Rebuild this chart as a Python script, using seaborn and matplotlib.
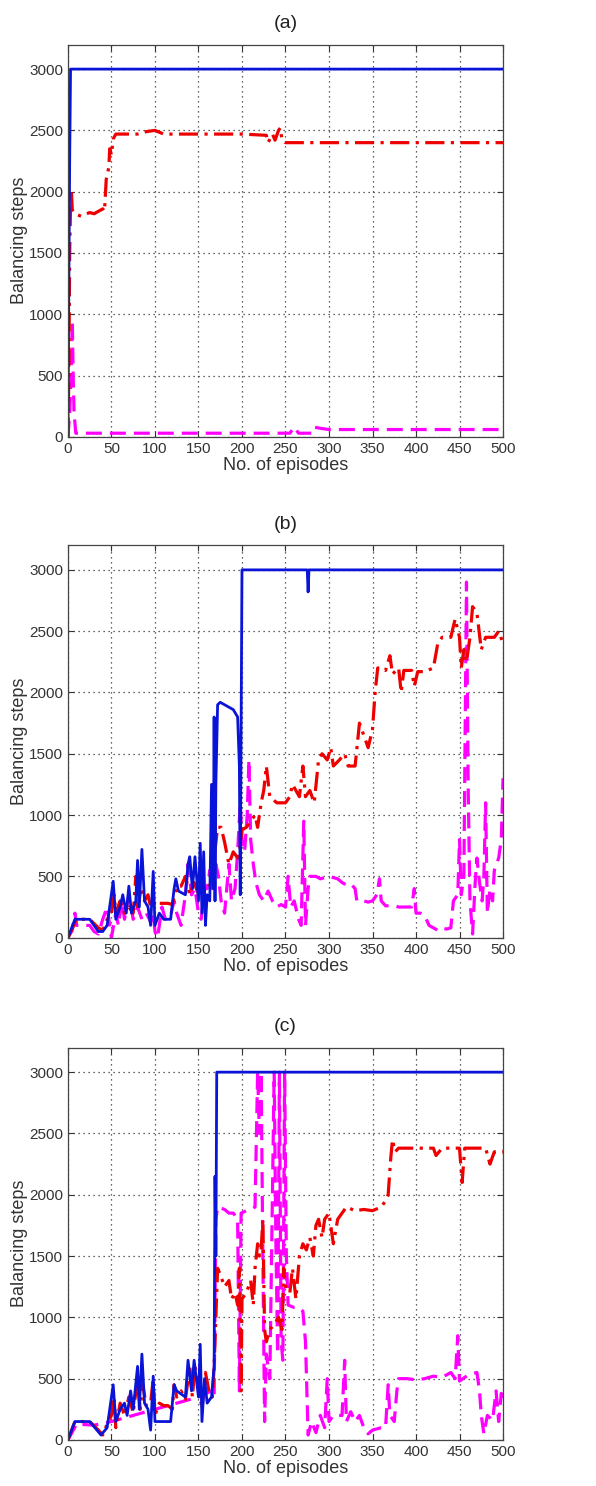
import numpy as np
import pandas as pd
import matplotlib
matplotlib.use("Agg")
import matplotlib.pyplot as plt
import seaborn as sns

# ============================================
# DATA
# ============================================

# ---- panel (a) ----
a_blue_ep = [0, 1, 2, 3, 500]
a_blue_val = [0, 1200, 2250, 3000, 3000]

a_red_ep = [0, 1, 2, 3, 4, 5, 8, 15, 25, 30, 40, 42, 44, 47, 48, 50, 52, 55, 80, 90,
            100, 110, 150, 200, 228, 230, 235, 238, 242, 244, 246, 250, 300, 400, 500]
a_red_val = [0, 500, 1500, 1900, 2000, 1850, 1820, 1800, 1830, 1820, 1860, 1840, 2100,
             2200, 2350, 2300, 2430, 2470, 2470, 2490, 2500, 2470, 2470, 2470, 2460,
             2400, 2470, 2420, 2500, 2520, 2420, 2400, 2400, 2400, 2400]

a_mag_ep = [0, 2, 4, 5, 6, 7, 9, 250, 255, 260, 265, 280, 283, 290, 300, 500]
a_mag_val = [0, 200, 600, 950, 500, 200, 30, 30, 30, 80, 30, 30, 80, 70, 60, 60]

# ---- panel (b) ----
b_blue_ep = [0, 8, 25, 35, 40, 45, 52, 55, 60, 63, 67, 70, 73, 78, 80, 82, 85, 88, 92,
             95, 98, 100, 105, 110, 118, 122, 124, 127, 135, 138, 140, 143, 146, 150,
             152, 154, 156, 158, 160, 163, 165, 167, 168, 169, 170, 172, 175, 185, 190,
             195, 197, 198, 199, 200, 275, 276, 277, 500]
b_blue_val = [0, 150, 150, 50, 50, 100, 460, 150, 250, 350, 200, 420, 200, 300, 630,
              250, 720, 300, 250, 100, 540, 100, 200, 150, 150, 400, 480, 380, 350, 600,
              660, 400, 660, 300, 770, 200, 700, 100, 350, 300, 1250, 400, 1800, 300,
              1250, 1900, 1920, 1880, 1860, 1800, 1400, 350, 1700, 3000, 3000, 2820,
              3000, 3000]

b_red_ep = [0, 8, 10, 25, 35, 40, 45, 50, 53, 55, 60, 65, 70, 75, 78, 80, 84, 88, 92,
            95, 98, 100, 105, 115, 120, 125, 130, 135, 140, 145, 150, 155, 160, 165,
            168, 172, 176, 180, 185, 190, 195, 198, 200, 205, 210, 215, 218, 222, 225,
            228, 232, 240, 250, 255, 258, 262, 266, 270, 273, 278, 283, 288, 292, 298,
            302, 305, 312, 318, 322, 330, 335, 340, 345, 350, 353, 356, 360, 365, 370,
            373, 380, 383, 386, 395, 398, 402, 410, 420, 425, 430, 440, 445, 450, 452,
            455, 458, 462, 465, 470, 475, 480, 490, 495, 500]
b_red_val = [0, 120, 150, 150, 80, 60, 150, 200, 350, 200, 300, 200, 250, 200, 500,
             250, 400, 300, 350, 250, 250, 300, 280, 280, 270, 420, 420, 500, 350, 450,
             350, 380, 400, 450, 650, 900, 900, 780, 600, 700, 650, 750, 880, 900, 950,
             1000, 900, 1100, 1200, 1400, 1150, 1100, 1100, 1150, 1250, 1200, 1150, 1400,
             1150, 1200, 1100, 1450, 1500, 1450, 1550, 1400, 1450, 1500, 1400, 1400,
             1750, 1650, 1550, 1700, 2000, 2200, 2200, 2180, 2300, 2150, 2200, 2000, 2180,
             2180, 2050, 2170, 2170, 2200, 2400, 2450, 2450, 2600, 2450, 2200, 2350, 2250,
             2450, 2700, 2650, 2350, 2450, 2450, 2500, 2400]

b_mag_ep = [0, 5, 8, 10, 25, 30, 35, 40, 45, 48, 50, 55, 58, 62, 65, 70, 75, 80, 85, 90,
            95, 98, 100, 103, 108, 112, 118, 122, 125, 130, 135, 138, 142, 146, 150, 153,
            157, 160, 163, 166, 170, 173, 176, 180, 185, 188, 192, 195, 198, 200, 203,
            206, 208, 210, 213, 216, 220, 225, 230, 235, 240, 245, 250, 253, 256, 260,
            265, 268, 271, 273, 276, 278, 285, 290, 300, 310, 315, 320, 325, 330, 332,
            340, 345, 350, 355, 358, 360, 365, 375, 380, 395, 398, 400, 405, 410, 415,
            420, 425, 430, 435, 440, 443, 448, 450, 452, 455, 458, 460, 462, 465, 468,
            470, 473, 476, 478, 480, 482, 485, 488, 490, 495, 498, 500]
b_mag_val = [0, 60, 200, 100, 100, 50, 30, 150, 250, 100, 0, 200, 100, 300, 150, 350,
             150, 250, 150, 200, 130, 200, 50, 0, 250, 150, 180, 300, 200, 100, 350, 600,
             350, 400, 200, 150, 400, 400, 550, 400, 600, 500, 300, 200, 600, 300, 400,
             700, 1100, 800, 700, 1000, 1450, 800, 600, 450, 350, 300, 380, 300, 250, 270,
             250, 500, 250, 300, 150, 100, 950, 100, 400, 500, 500, 480, 500, 480, 450,
             430, 440, 400, 300, 300, 290, 300, 350, 480, 300, 260, 260, 250, 250, 400,
             200, 200, 180, 100, 80, 60, 80, 70, 80, 300, 350, 800, 350, 500, 2900, 1200,
             300, 30, 450, 650, 450, 300, 500, 1100, 200, 400, 300, 550, 650, 800, 1300]

# ---- panel (c) ----
c_blue_ep = [0, 8, 25, 38, 45, 52, 55, 60, 65, 68, 72, 75, 80, 82, 85, 88, 92, 95, 98,
             100, 110, 118, 122, 125, 135, 138, 142, 145, 150, 152, 154, 157, 160, 165,
             168, 169, 170, 171, 500]
c_blue_val = [0, 150, 150, 40, 100, 450, 150, 250, 300, 200, 400, 250, 600, 250, 700,
              300, 250, 80, 520, 150, 150, 150, 450, 400, 350, 650, 400, 650, 350, 780,
              150, 500, 300, 350, 600, 2150, 1500, 3000, 3000]

c_red_ep = [0, 8, 25, 35, 40, 45, 50, 53, 55, 60, 65, 70, 75, 80, 83, 86, 90, 95, 98,
            100, 105, 110, 115, 120, 122, 125, 130, 135, 140, 143, 146, 150, 154, 158,
            162, 166, 168, 170, 172, 175, 180, 185, 188, 192, 195, 197, 199, 200, 205,
            210, 213, 215, 218, 220, 222, 224, 226, 228, 232, 238, 242, 246, 248, 250,
            255, 258, 262, 266, 270, 274, 278, 282, 285, 288, 292, 295, 300, 305, 310,
            315, 320, 330, 340, 350, 360, 365, 368, 371, 373, 376, 380, 400, 420, 423,
            430, 450, 453, 456, 480, 485, 490, 500]
c_red_val = [0, 150, 150, 80, 40, 130, 200, 350, 100, 300, 200, 350, 220, 500, 250, 450,
             280, 300, 500, 200, 300, 280, 280, 250, 450, 350, 400, 330, 600, 350, 600,
             450, 250, 550, 400, 350, 600, 1000, 1400, 1350, 1250, 1300, 1150, 1200, 1100,
             1400, 400, 1150, 1200, 1300, 1100, 1400, 1600, 1500, 1550, 1800, 900, 800,
             900, 950, 1000, 900, 1400, 1250, 1200, 1400, 1150, 1500, 1600, 1550, 1650,
             1500, 1750, 1800, 1650, 1800, 1850, 1600, 1800, 1850, 1900, 1870, 1880, 1870,
             1900, 1950, 2000, 2300, 2450, 2350, 2380, 2380, 2380, 2320, 2380, 2380, 2100,
             2380, 2380, 2250, 2350, 2350]

c_mag_ep = [0, 10, 30, 50, 100, 150, 165, 168, 170, 172, 180, 185, 190, 195, 197, 199,
            205, 210, 215, 218, 220, 222, 224, 226, 228, 232, 235, 237, 239, 241, 243,
            245, 247, 249, 251, 253, 260, 265, 270, 273, 276, 280, 285, 290, 295, 298,
            300, 305, 315, 318, 320, 325, 330, 335, 340, 345, 350, 360, 365, 368, 370,
            375, 378, 380, 390, 400, 410, 420, 430, 440, 445, 448, 450, 460, 470, 473,
            475, 478, 482, 488, 492, 495, 498, 500]
c_mag_val = [0, 130, 120, 150, 250, 350, 400, 350, 1800, 1900, 1880, 1850, 1850, 1800,
             400, 1850, 1870, 1880, 1900, 3000, 2500, 3000, 1500, 150, 700, 500, 2000,
             3000, 1600, 700, 3000, 800, 650, 3000, 1500, 1100, 1080, 1080, 1050, 800, 40,
             150, 60, 200, 100, 500, 150, 200, 200, 650, 150, 230, 150, 200, 100, 50, 80,
             100, 100, 450, 200, 150, 400, 500, 500, 490, 500, 520, 510, 550, 500, 850,
             480, 530, 550, 400, 200, 50, 200, 160, 400, 150, 380, 300]

panel_titles = ["(a)", "(b)", "(c)"]
x_ticks = list(range(0, 501, 50))
y_ticks = list(range(0, 3001, 500))


# ============================================
# PLOT
# ============================================

sns.set_style("white")
plt.rcParams['font.family'] = ['Liberation Sans', 'DejaVu Sans']

fig = plt.figure(figsize=(5.96, 14.86), dpi=100)

panels = [
    (a_blue_ep, a_blue_val, a_red_ep, a_red_val, a_mag_ep, a_mag_val),
    (b_blue_ep, b_blue_val, b_red_ep, b_red_val, b_mag_ep, b_mag_val),
    (c_blue_ep, c_blue_val, c_red_ep, c_red_val, c_mag_ep, c_mag_val),
]
bottoms = [0.706, 0.369, 0.031]

for i, (be, bv, re, rv, me, mv) in enumerate(panels):
    ax = fig.add_axes([0.114, bottoms[i], 0.730, 0.264])

    # magenta dashed, red dash-dot, blue solid (blue on top)
    sns.lineplot(x=me, y=mv, ax=ax, color="#ff00ff", lw=2.3,
                 linestyle=(0, (5, 2.5)), estimator=None, sort=False)
    sns.lineplot(x=re, y=rv, ax=ax, color="#ee0000", lw=2.3,
                 linestyle=(0, (6, 2, 1, 2)), estimator=None, sort=False)
    sns.lineplot(x=be, y=bv, ax=ax, color="#0a14d8", lw=2.0,
                 estimator=None, sort=False)

    ax.set_xlim(0, 500)
    ax.set_ylim(0, 3200)
    ax.set_xticks(x_ticks)
    ax.set_yticks(y_ticks)
    ax.grid(True, color="#333333", linestyle=(0, (1, 3)), linewidth=0.9)
    ax.tick_params(direction="in", length=4, width=0.8, colors="#333333",
                   labelsize=11, labelcolor="#333333", top=True, right=True,
                   bottom=True, left=True)
    for sp in ax.spines.values():
        sp.set_color("#444444")
        sp.set_linewidth(0.9)

    ax.set_xlabel("No. of episodes", fontsize=13, color="#333333", labelpad=1)
    ax.set_ylabel("Balancing steps", fontsize=13, color="#333333", labelpad=1)
    ax.set_title(panel_titles[i], fontsize=14, color="#222222", pad=12)

fig.savefig("out.png", dpi=100, facecolor="white")
